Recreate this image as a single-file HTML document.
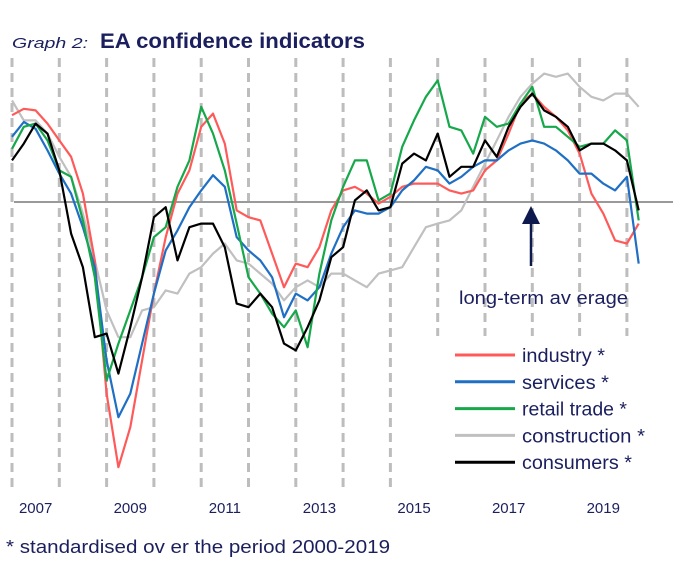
<!DOCTYPE html>
<html><head><meta charset="utf-8"><style>
body{margin:0;background:#fff;}
svg text{font-family:"Liberation Sans",Arial,sans-serif;}
</style></head><body>
<svg id="chart" width="688" height="560" viewBox="0 0 688 560">
<text x="12" y="48" font-size="15" font-style="italic" fill="#1b1f5e" textLength="76" lengthAdjust="spacingAndGlyphs">Graph 2:</text>
<text x="100" y="48" font-size="21" font-weight="bold" fill="#1b1f5e" textLength="265" lengthAdjust="spacingAndGlyphs">EA confidence indicators</text>
<g id="grid"></g>
<rect x="428" y="336" width="228" height="146" fill="#fff"/>
<line x1="14" y1="202" x2="673" y2="202" stroke="#9a9a9a" stroke-width="2"/>
<g id="series"></g>
<g id="xlabels"></g>
<line x1="531" y1="266" x2="531" y2="222" stroke="#0e1a4e" stroke-width="2.5"/>
<polygon points="522,224 540,224 531,206" fill="#0e1a4e"/>
<text x="459" y="304" font-size="18" fill="#1b1f5e" textLength="169" lengthAdjust="spacingAndGlyphs">long-term av erage</text>
<g id="legend"></g>
<text x="6" y="553" font-size="18" fill="#1b1f5e" textLength="384" lengthAdjust="spacingAndGlyphs">* standardised ov er the period 2000-2019</text>
</svg>
<script>
const years=[2007,2008,2009,2010,2011,2012,2013,2014,2015,2016,2017,2018,2019,2020];
const yearLabels=["2007","2009","2011","2013","2015","2017","2019"];
const seriesNames=["industry *","services *","retail trade *","construction *","consumers *"];
const industry=[2.17,2.33,2.29,1.96,1.54,1.13,0.21,-1.46,-4.79,-6.63,-5.63,-3.96,-2.29,-0.88,0.21,0.79,1.88,2.21,1.46,-0.21,-0.38,-0.46,-1.29,-2.13,-1.54,-1.63,-1.13,-0.21,0.29,0.38,0.21,-0.04,0.13,0.38,0.46,0.46,0.46,0.29,0.21,0.29,0.79,1.04,1.71,2.46,2.71,2.38,2.13,1.79,1.21,0.21,-0.29,-0.96,-1.04,-0.54];
const services=[1.63,2.0,1.83,1.29,0.71,0.21,-0.63,-1.63,-3.96,-5.38,-4.79,-3.54,-2.29,-1.21,-0.71,-0.13,0.29,0.67,0.38,-0.88,-1.21,-1.46,-1.88,-2.88,-2.29,-2.46,-2.13,-1.29,-0.63,-0.21,-0.29,-0.29,-0.13,0.29,0.54,0.88,0.79,0.46,0.63,0.88,1.04,1.04,1.29,1.46,1.54,1.46,1.29,1.04,0.71,0.71,0.46,0.29,0.63,-1.54];
const retail=[1.33,1.88,1.96,1.54,0.79,0.63,-0.46,-1.88,-4.46,-3.54,-2.71,-1.88,-0.88,-0.63,0.38,1.04,2.38,1.71,0.79,-0.54,-1.88,-2.29,-2.79,-3.13,-2.71,-3.63,-1.79,-0.46,0.38,1.04,1.04,0.04,0.21,1.38,2.04,2.63,3.04,1.88,1.79,1.21,2.13,1.88,1.96,2.46,2.88,1.88,1.88,1.63,1.38,1.46,1.46,1.79,1.54,-0.46];
const construction=[2.54,2.04,2.04,1.71,1.13,0.63,-0.29,-1.46,-2.71,-3.38,-3.38,-2.71,-2.63,-2.21,-2.29,-1.79,-1.63,-1.29,-1.04,-1.46,-1.54,-1.79,-2.04,-2.46,-2.13,-1.96,-2.13,-1.79,-1.79,-1.96,-2.13,-1.79,-1.71,-1.63,-1.13,-0.63,-0.54,-0.46,-0.21,0.38,0.96,1.54,2.13,2.63,2.96,3.21,3.13,3.21,2.88,2.63,2.54,2.71,2.71,2.38];
const consumers=[1.04,1.46,1.96,1.71,0.79,-0.79,-1.63,-3.38,-3.29,-4.29,-3.13,-1.88,-0.38,-0.13,-1.46,-0.63,-0.54,-0.54,-1.13,-2.54,-2.63,-2.29,-2.63,-3.54,-3.71,-3.13,-2.46,-1.38,-1.13,0.04,0.29,-0.21,-0.13,0.96,1.21,1.04,1.71,0.63,0.88,0.88,1.54,1.13,1.88,2.38,2.71,2.29,2.13,1.88,1.29,1.46,1.46,1.29,1.04,-0.21];
const NS="http://www.w3.org/2000/svg";
function xs(t){return 12+(t-2007)*47.3;}
function ys(v){return 202-v*40;}
function mk(tag,attrs,parent){const e=document.createElementNS(NS,tag);for(const k in attrs)e.setAttribute(k,attrs[k]);parent.appendChild(e);return e;}
const grid=document.getElementById('grid');
years.forEach(yr=>{
  const x=xs(yr);
  const longLine=(x<420||x>660);
  const l=mk('line',{x1:x,x2:x,y1:58,y2:longLine?490:336,stroke:'#bdbdbd','stroke-width':3,'stroke-dasharray':'9 6'},grid);
  
  
});
const xl=document.getElementById('xlabels');
yearLabels.forEach(lb=>{
  const t=mk('text',{x:xs(+lb+0.5),y:513,'font-size':15,fill:'#1b1f5e','text-anchor':'middle'},xl);
  t.textContent=lb;
  
  
});
const colors=['#ff5a5a','#1f6fc4','#16a84a','#c0c0c0','#000000'];
const legendWidths=[83,87,105,123,110];
const order=[3,0,1,2,4];
const sg=document.getElementById('series');
order.forEach(si=>{
  const vals=[industry,services,retail,construction,consumers][si];
  const d=vals.map((v,i)=>(i?'L':'M')+xs(2007+i*0.25).toFixed(1)+','+ys(v).toFixed(1)).join('');
  const p=mk('path',{d:d,fill:'none',stroke:colors[si],'stroke-width':2.2,'stroke-linejoin':'round'},sg);
  
  
});
const lg=document.getElementById('legend');
seriesNames.forEach((n,i)=>{
  const y=355+i*26.8;
  const l=mk('line',{x1:455,x2:515,y1:y,y2:y,stroke:colors[i],'stroke-width':3},lg);
  
  
  const t=mk('text',{x:522,y:y+7,'font-size':19,fill:'#1b1f5e',textLength:legendWidths[i],lengthAdjust:'spacingAndGlyphs'},lg);
  t.textContent=n;
  
  
});
</script>
</body></html>
